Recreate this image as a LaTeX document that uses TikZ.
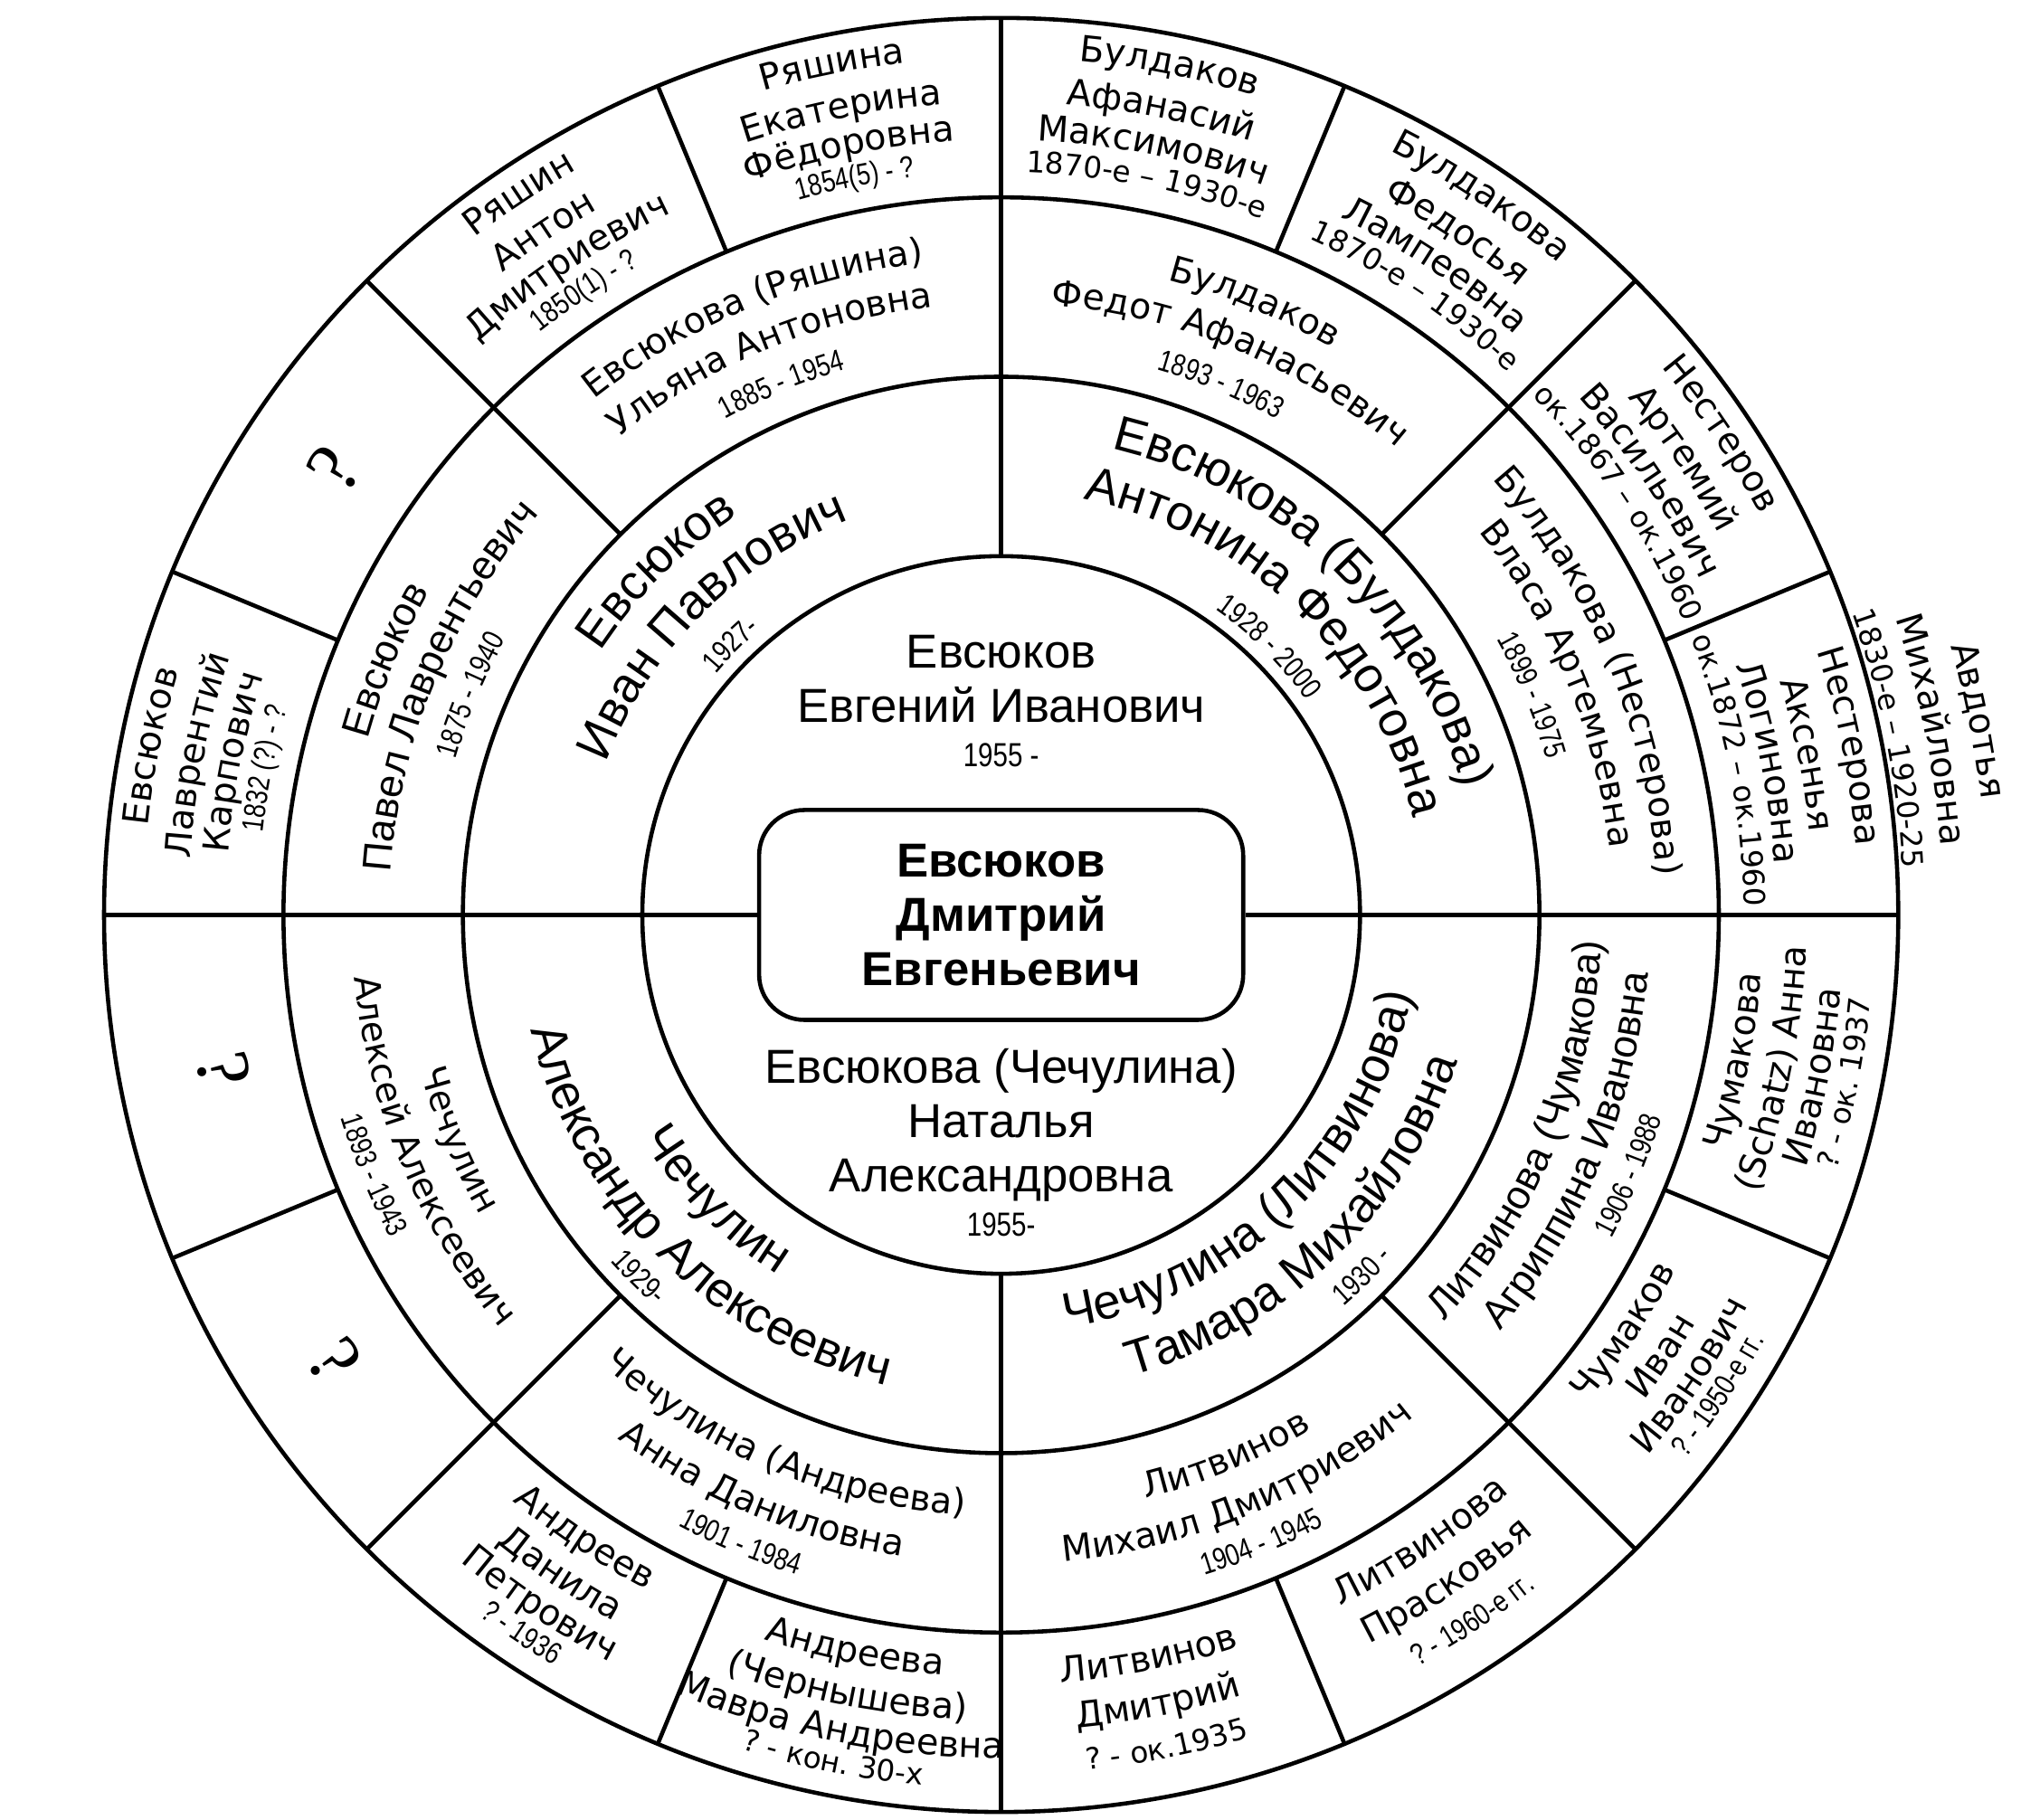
\documentclass[tikz,border=0pt]{standalone}
\usepackage{fontspec}
\usetikzlibrary{decorations.text}
\setmainfont{Liberation Sans}
\newfontfamily\vfont{DejaVu Sans}
\newfontfamily\nfont[FakeStretch=0.8]{Liberation Sans}
\newfontfamily\qfont{Liberation Serif}
\newcommand{\dt}[1]{{\nfont\fontsize{10.5}{10.5}\selectfont #1}}
\newcommand{\ftwo}{\fontsize{15.5}{18}\selectfont}
\newcommand{\fthr}{\vfont\fontsize{11.2}{13}\selectfont}
\newcommand{\fthra}{\fontsize{12.7}{14}\selectfont}
\newcommand{\ffou}{\vfont\fontsize{11.3}{12}\selectfont}
\newcommand{\fdn}{\nfont\fontsize{9.6}{10}\selectfont}
\newcommand{\fdv}{\vfont\fontsize{9.3}{10}\selectfont}
% text along an arc: #1 centre angle, #2 radius, #3 font, #4 text
\newcommand{\cw}[4]{\path[decorate,decoration={text along path,text align=center,text={|#3|#4}}] ({#1+80}:#2) arc[start angle={#1+80},end angle={#1-80},radius=#2];}
\newcommand{\ccw}[4]{\path[decorate,decoration={text along path,text align=center,text={|#3|#4}}] ({#1-80}:#2) arc[start angle={#1-80},end angle={#1+80},radius=#2];}
\begin{document}
\begin{tikzpicture}[x=1.983cm,y=1.983cm,line width=1.3pt,
  cbox/.style={draw,fill=white,rounded corners=0.5cm,minimum width=5.35cm,minimum height=2.32cm,align=center,font=\bfseries\fontsize{15}{17}\selectfont,inner sep=0pt},
  rone/.style={align=center,font=\fontsize{15}{17}\selectfont,inner sep=0pt},
  qmark/.style={font=\qfont\fontsize{24}{24}\selectfont,inner sep=0pt}]
\useasboundingbox (-5.58,-5.04) rectangle (5.79,5.10);
\fill[white] (-5.58,-5.04) rectangle (5.79,5.10);
% rings
\draw (0,0) circle (2) (0,0) circle (3) (0,0) circle (4) (0,0) circle (5);
% centre box
\node[cbox] (me) at (0,0) {Евсюков\\Дмитрий\\Евгеньевич};
\draw (-5,0) -- (me.west) (me.east) -- (5,0);
\draw (0,2) -- (0,5) (0,-2) -- (0,-5);
\foreach \a in {45,135,225,315} \draw (\a:3) -- (\a:5);
\foreach \a in {22.5,67.5,112.5,157.5,202.5,247.5,292.5,337.5} \draw (\a:4) -- (\a:5);
% ring 1
\node[rone] (father) at (0,1.19) {Евсюков\\Евгений Иванович\\[-3pt]\dt{1955 -}};
\node[rone] (mother) at (0,-1.27) {Евсюкова (Чечулина)\\Наталья\\Александровна\\[-3pt]\dt{1955-}};
% ring 2
\cw{135}{2.67}{\ftwo}{Евсюков}
\cw{135}{2.36}{\ftwo}{Иван Павлович}
\cw{135}{2.08}{\fdn}{1927-}
\cw{46}{2.67}{\ftwo}{Евсюкова (Булдакова)}
\cw{46}{2.36}{\ftwo}{Антонина Федотовна}
\cw{45}{2.08}{\fdn}{1928 - 2000}
\ccw{225}{2.36}{\ftwo}{Чечулин}
\ccw{225}{2.70}{\ftwo}{Александр Алексеевич}
\ccw{225}{2.91}{\fdn}{1929-}
\ccw{314}{2.33}{\ftwo}{Чечулина (Литвинова)}
\ccw{314}{2.67}{\ftwo}{Тамара Михайловна}
\ccw{315}{2.90}{\fdn}{1930 -}
% ring 3
\cw{157.5}{3.66}{\fthra}{Евсюков}
\cw{157.5}{3.41}{\fthra}{Павел Лаврентьевич}
\cw{157.5}{3.16}{\fdn}{1875 - 1940}
\cw{112.5}{3.66}{\fthr}{Евсюкова (Ряшина)}
\cw{112.5}{3.41}{\fthr}{Ульяна Антоновна}
\cw{112.5}{3.16}{\fdn}{1885 - 1954}
\cw{67.5}{3.66}{\fthr}{Булдаков}
\cw{67.5}{3.41}{\fthr}{Федот Афанасьевич}
\cw{67.5}{3.16}{\fdn}{1893 - 1963}
\cw{22.5}{3.66}{\fthr}{Булдакова (Нестерова)}
\cw{22.5}{3.41}{\fthr}{Власа Артемьевна}
\cw{22.5}{3.16}{\fdn}{1899 - 1975}
\ccw{337.5}{3.35}{\fthra}{Литвинова (Чумакова)}
\ccw{337.5}{3.62}{\fthra}{Агриппина Ивановна}
\ccw{337.5}{3.85}{\fdn}{1906 - 1988}
\ccw{292.5}{3.35}{\fthr}{Литвинов}
\ccw{292.5}{3.62}{\fthr}{Михаил Дмитриевич}
\ccw{292.5}{3.85}{\fdn}{1904 - 1945}
\ccw{247.5}{3.35}{\fthr}{Чечулина (Андреева)}
\ccw{247.5}{3.62}{\fthr}{Анна Даниловна}
\ccw{247.5}{3.85}{\fdn}{1901 - 1984}
\ccw{202.5}{3.35}{\fthr}{Чечулин}
\ccw{202.5}{3.62}{\fthr}{Алексей Алексеевич}
\ccw{202.5}{3.85}{\fdn}{1893 - 1943}
% ring 4, upper half
\cw{168.75}{4.78}{\ffou}{Евсюков}
\cw{168.75}{4.53}{\ffou}{Лаврентий}
\cw{168.75}{4.32}{\ffou}{Карпович}
\cw{168.75}{4.14}{\fdn}{1832 (?) - ?}
\node[qmark,rotate=56.25] (fffm) at (146.25:4.47) {?};
\cw{123.75}{4.78}{\ffou}{Ряшин}
\cw{123.75}{4.53}{\ffou}{Антон}
\cw{123.75}{4.32}{\ffou}{Дмитриевич}
\cw{123.75}{4.14}{\fdn}{1850(1) - ?}
\cw{101.25}{4.78}{\ffou}{Ряшина}
\cw{101.25}{4.53}{\ffou}{Екатерина}
\cw{101.25}{4.32}{\ffou}{Фёдоровна}
\cw{101.25}{4.14}{\fdn}{1854(5) - ?}
\cw{78.75}{4.78}{\ffou}{Булдаков}
\cw{78.75}{4.53}{\ffou}{Афанасий}
\cw{78.75}{4.32}{\ffou}{Максимович}
\cw{78.75}{4.14}{\fdv}{1870-е  –  1930-е}
\cw{56.25}{4.78}{\ffou}{Булдакова}
\cw{56.25}{4.53}{\ffou}{Федосья}
\cw{56.25}{4.32}{\ffou}{Лампеевна}
\cw{56.25}{4.14}{\fdv}{1870-е  –  1930-е}
\cw{33.75}{4.78}{\ffou}{Нестеров}
\cw{33.75}{4.53}{\ffou}{Артемий}
\cw{33.75}{4.32}{\ffou}{Васильевич}
\cw{33.75}{4.14}{\fdv}{ок.1867 – ок.1960}
\cw{11.25}{4.78}{\ffou}{Нестерова}
\cw{11.25}{4.53}{\ffou}{Аксенья}
\cw{11.25}{4.32}{\ffou}{Логиновна}
\cw{11.25}{4.14}{\fdv}{ок.1872 – ок.1960}
\cw{11.25}{5.50}{\ffou}{Авдотья}
\cw{11.25}{5.25}{\ffou}{Михайловна}
\cw{11.25}{5.03}{\fdv}{1830-е  –  1920-25}
% ring 4, lower half
\ccw{348.75}{4.25}{\ffou}{Чумакова}
\ccw{348.75}{4.49}{\ffou}{(Schatz) Анна}
\ccw{348.75}{4.70}{\ffou}{Ивановна}
\ccw{348.75}{4.87}{\fdv}{? - ок. 1937}
\ccw{326.25}{4.25}{\ffou}{Чумаков}
\ccw{326.25}{4.49}{\ffou}{Иван}
\ccw{326.25}{4.70}{\ffou}{Иванович}
\ccw{326.25}{4.87}{\fdn}{? - 1950-е гг.}
\ccw{303.75}{4.29}{\ffou}{Литвинова}
\ccw{303.75}{4.55}{\ffou}{Прасковья}
\ccw{303.75}{4.79}{\fdn}{? - 1960-е гг.}
\ccw{281.25}{4.29}{\ffou}{Литвинов}
\ccw{281.25}{4.55}{\ffou}{Дмитрий}
\ccw{281.25}{4.79}{\fdv}{? - ок.1935}
\ccw{258.75}{4.25}{\ffou}{Андреева}
\ccw{258.75}{4.49}{\ffou}{(Чернышева)}
\ccw{258.75}{4.70}{\ffou}{Мавра Андреевна}
\ccw{258.75}{4.87}{\fdv}{? - кон. 30-х}
\ccw{236.25}{4.25}{\ffou}{Андреев}
\ccw{236.25}{4.49}{\ffou}{Данила}
\ccw{236.25}{4.70}{\ffou}{Петрович}
\ccw{236.25}{4.87}{\fdn}{? - 1936}
\node[qmark,rotate=-56.25] (mffm) at (-146.25:4.47) {?};
\node[qmark,rotate=-78.75] (mfff) at (-168.75:4.42) {?};
\end{tikzpicture}
\end{document}
